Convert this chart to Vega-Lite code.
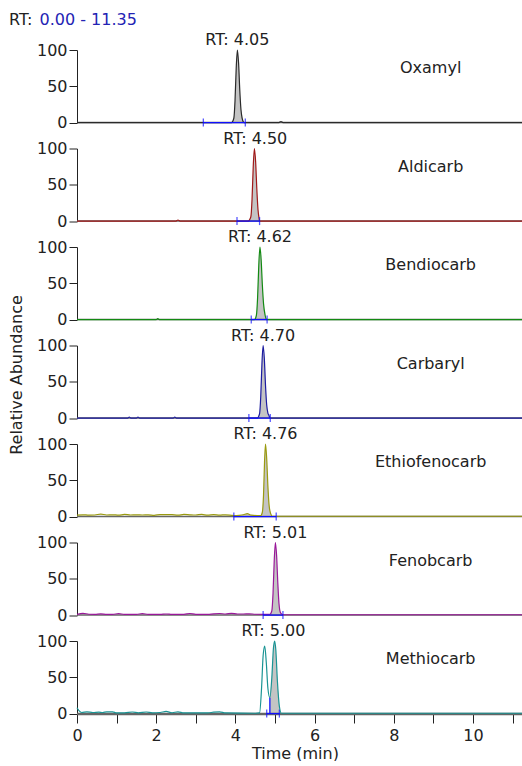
{
  "$schema": "https://vega.github.io/schema/vega-lite/v6.json",
  "padding": {"left": 8, "top": 12, "right": 0, "bottom": 0},
  "background": "white",
  "config": {
    "font": "DejaVu Sans",
    "view": {"stroke": null},
    "axis": {"labelFont": "DejaVu Sans", "labelFontSize": 16, "labelColor": "#222222", "tickColor": "#222222", "domainColor": "#222222", "grid": false, "titleFont": "DejaVu Sans", "titleFontSize": 16, "titleFontWeight": "normal", "titleColor": "#222222"},
    "axisX": {"title": "Time (min)", "values": [0, 0.5, 1, 1.5, 2, 2.5, 3, 3.5, 4, 4.5, 5, 5.5, 6, 6.5, 7, 7.5, 8, 8.5, 9, 9.5, 10, 10.5, 11], "labelExpr": "datum.value % 2 === 0 ? datum.label : ''", "tickSize": 9, "labelPadding": 4, "labelFlush": false, "labelOverlap": false, "domainColor": "#666666", "domainWidth": 1.5, "titlePadding": 2, "titleX": 218},
    "axisY": {"values": [0, 10, 20, 30, 40, 50, 60, 70, 80, 90, 100], "labelExpr": "datum.value % 50 === 0 ? datum.label : ''", "tickSize": 8, "labelPadding": 2, "labelOverlap": false, "labelFlush": false, "domain": true, "ticks": true}
  },
  "title": {
    "text": "RT:",
    "subtitle": "\u200b\u00a0\u00a0\u00a0\u00a0\u00a0\u00a00.00 - 11.35",
    "anchor": "start",
    "font": "DejaVu Sans",
    "fontSize": 16,
    "fontWeight": "normal",
    "color": "#222222",
    "subtitleFont": "DejaVu Sans",
    "subtitleFontSize": 16,
    "subtitleColor": "#2323b4",
    "subtitlePadding": -16,
    "offset": 4
  },
  "data": {"values": [
    {"c": "Oxamyl", "kind": "trace", "t": 0, "v": 0},
    {"c": "Oxamyl", "kind": "trace", "t": 3.19, "v": 0},
    {"c": "Oxamyl", "kind": "trace", "t": 3.9, "v": 0},
    {"c": "Oxamyl", "kind": "trace", "t": 3.96, "v": 6},
    {"c": "Oxamyl", "kind": "trace", "t": 3.99, "v": 30},
    {"c": "Oxamyl", "kind": "trace", "t": 4.02, "v": 75},
    {"c": "Oxamyl", "kind": "trace", "t": 4.05, "v": 100},
    {"c": "Oxamyl", "kind": "trace", "t": 4.08, "v": 82},
    {"c": "Oxamyl", "kind": "trace", "t": 4.11, "v": 45},
    {"c": "Oxamyl", "kind": "trace", "t": 4.14, "v": 18},
    {"c": "Oxamyl", "kind": "trace", "t": 4.17, "v": 6},
    {"c": "Oxamyl", "kind": "trace", "t": 4.22, "v": 0},
    {"c": "Oxamyl", "kind": "trace", "t": 4.25, "v": 0},
    {"c": "Oxamyl", "kind": "trace", "t": 5.1, "v": 0},
    {"c": "Oxamyl", "kind": "trace", "t": 5.15, "v": 1.5},
    {"c": "Oxamyl", "kind": "trace", "t": 5.2, "v": 0},
    {"c": "Oxamyl", "kind": "trace", "t": 11.35, "v": 0},

    {"c": "Aldicarb", "kind": "trace", "t": 0, "v": 0},
    {"c": "Aldicarb", "kind": "trace", "t": 2.5, "v": 0},
    {"c": "Aldicarb", "kind": "trace", "t": 2.55, "v": 1.5},
    {"c": "Aldicarb", "kind": "trace", "t": 2.6, "v": 0},
    {"c": "Aldicarb", "kind": "trace", "t": 4.04, "v": 0},
    {"c": "Aldicarb", "kind": "trace", "t": 4.32, "v": 0},
    {"c": "Aldicarb", "kind": "trace", "t": 4.39, "v": 6},
    {"c": "Aldicarb", "kind": "trace", "t": 4.42, "v": 30},
    {"c": "Aldicarb", "kind": "trace", "t": 4.45, "v": 75},
    {"c": "Aldicarb", "kind": "trace", "t": 4.48, "v": 100},
    {"c": "Aldicarb", "kind": "trace", "t": 4.51, "v": 82},
    {"c": "Aldicarb", "kind": "trace", "t": 4.54, "v": 45},
    {"c": "Aldicarb", "kind": "trace", "t": 4.57, "v": 16},
    {"c": "Aldicarb", "kind": "trace", "t": 4.6, "v": 3},
    {"c": "Aldicarb", "kind": "trace", "t": 4.61, "v": 0},
    {"c": "Aldicarb", "kind": "trace", "t": 11.35, "v": 0},

    {"c": "Bendiocarb", "kind": "trace", "t": 0, "v": 0},
    {"c": "Bendiocarb", "kind": "trace", "t": 2.0, "v": 0},
    {"c": "Bendiocarb", "kind": "trace", "t": 2.04, "v": 1.5},
    {"c": "Bendiocarb", "kind": "trace", "t": 2.08, "v": 0},
    {"c": "Bendiocarb", "kind": "trace", "t": 4.4, "v": 0},
    {"c": "Bendiocarb", "kind": "trace", "t": 4.48, "v": 0},
    {"c": "Bendiocarb", "kind": "trace", "t": 4.53, "v": 6},
    {"c": "Bendiocarb", "kind": "trace", "t": 4.56, "v": 30},
    {"c": "Bendiocarb", "kind": "trace", "t": 4.59, "v": 75},
    {"c": "Bendiocarb", "kind": "trace", "t": 4.62, "v": 100},
    {"c": "Bendiocarb", "kind": "trace", "t": 4.65, "v": 82},
    {"c": "Bendiocarb", "kind": "trace", "t": 4.68, "v": 48},
    {"c": "Bendiocarb", "kind": "trace", "t": 4.71, "v": 22},
    {"c": "Bendiocarb", "kind": "trace", "t": 4.75, "v": 6},
    {"c": "Bendiocarb", "kind": "trace", "t": 4.79, "v": 0},
    {"c": "Bendiocarb", "kind": "trace", "t": 4.8, "v": 0},
    {"c": "Bendiocarb", "kind": "trace", "t": 11.35, "v": 0},

    {"c": "Carbaryl", "kind": "trace", "t": 0, "v": 0},
    {"c": "Carbaryl", "kind": "trace", "t": 1.28, "v": 0},
    {"c": "Carbaryl", "kind": "trace", "t": 1.32, "v": 1.5},
    {"c": "Carbaryl", "kind": "trace", "t": 1.36, "v": 0},
    {"c": "Carbaryl", "kind": "trace", "t": 1.5, "v": 0},
    {"c": "Carbaryl", "kind": "trace", "t": 1.54, "v": 1.5},
    {"c": "Carbaryl", "kind": "trace", "t": 1.58, "v": 0},
    {"c": "Carbaryl", "kind": "trace", "t": 2.43, "v": 0},
    {"c": "Carbaryl", "kind": "trace", "t": 2.47, "v": 1.5},
    {"c": "Carbaryl", "kind": "trace", "t": 2.51, "v": 0},
    {"c": "Carbaryl", "kind": "trace", "t": 4.34, "v": 0},
    {"c": "Carbaryl", "kind": "trace", "t": 4.55, "v": 0},
    {"c": "Carbaryl", "kind": "trace", "t": 4.61, "v": 6},
    {"c": "Carbaryl", "kind": "trace", "t": 4.64, "v": 30},
    {"c": "Carbaryl", "kind": "trace", "t": 4.67, "v": 75},
    {"c": "Carbaryl", "kind": "trace", "t": 4.7, "v": 100},
    {"c": "Carbaryl", "kind": "trace", "t": 4.73, "v": 82},
    {"c": "Carbaryl", "kind": "trace", "t": 4.76, "v": 45},
    {"c": "Carbaryl", "kind": "trace", "t": 4.79, "v": 18},
    {"c": "Carbaryl", "kind": "trace", "t": 4.82, "v": 7},
    {"c": "Carbaryl", "kind": "trace", "t": 4.845, "v": 4},
    {"c": "Carbaryl", "kind": "trace", "t": 4.87, "v": 0},
    {"c": "Carbaryl", "kind": "trace", "t": 4.88, "v": 0},
    {"c": "Carbaryl", "kind": "trace", "t": 11.35, "v": 0},

    {"c": "Ethiofenocarb", "kind": "trace", "t": 0, "v": 2},
    {"c": "Ethiofenocarb", "kind": "trace", "t": 0.15, "v": 2.5},
    {"c": "Ethiofenocarb", "kind": "trace", "t": 0.3, "v": 2},
    {"c": "Ethiofenocarb", "kind": "trace", "t": 0.45, "v": 2.2},
    {"c": "Ethiofenocarb", "kind": "trace", "t": 0.6, "v": 3.5},
    {"c": "Ethiofenocarb", "kind": "trace", "t": 0.75, "v": 2.2},
    {"c": "Ethiofenocarb", "kind": "trace", "t": 0.9, "v": 2.5},
    {"c": "Ethiofenocarb", "kind": "trace", "t": 1.05, "v": 2},
    {"c": "Ethiofenocarb", "kind": "trace", "t": 1.2, "v": 3},
    {"c": "Ethiofenocarb", "kind": "trace", "t": 1.35, "v": 2.2},
    {"c": "Ethiofenocarb", "kind": "trace", "t": 1.5, "v": 2.5},
    {"c": "Ethiofenocarb", "kind": "trace", "t": 1.65, "v": 2.2},
    {"c": "Ethiofenocarb", "kind": "trace", "t": 1.8, "v": 2.5},
    {"c": "Ethiofenocarb", "kind": "trace", "t": 1.95, "v": 1.8},
    {"c": "Ethiofenocarb", "kind": "trace", "t": 2.1, "v": 2.8},
    {"c": "Ethiofenocarb", "kind": "trace", "t": 2.25, "v": 2.8},
    {"c": "Ethiofenocarb", "kind": "trace", "t": 2.4, "v": 2.6},
    {"c": "Ethiofenocarb", "kind": "trace", "t": 2.55, "v": 2.0},
    {"c": "Ethiofenocarb", "kind": "trace", "t": 2.7, "v": 3},
    {"c": "Ethiofenocarb", "kind": "trace", "t": 2.85, "v": 2.5},
    {"c": "Ethiofenocarb", "kind": "trace", "t": 3.0, "v": 2.2},
    {"c": "Ethiofenocarb", "kind": "trace", "t": 3.15, "v": 3},
    {"c": "Ethiofenocarb", "kind": "trace", "t": 3.3, "v": 2},
    {"c": "Ethiofenocarb", "kind": "trace", "t": 3.45, "v": 2.8},
    {"c": "Ethiofenocarb", "kind": "trace", "t": 3.6, "v": 2},
    {"c": "Ethiofenocarb", "kind": "trace", "t": 3.75, "v": 2.5},
    {"c": "Ethiofenocarb", "kind": "trace", "t": 3.9, "v": 1.8},
    {"c": "Ethiofenocarb", "kind": "trace", "t": 3.96, "v": 1.5},
    {"c": "Ethiofenocarb", "kind": "trace", "t": 4.1, "v": 1.8},
    {"c": "Ethiofenocarb", "kind": "trace", "t": 4.2, "v": 2.5},
    {"c": "Ethiofenocarb", "kind": "trace", "t": 4.3, "v": 4},
    {"c": "Ethiofenocarb", "kind": "trace", "t": 4.4, "v": 2},
    {"c": "Ethiofenocarb", "kind": "trace", "t": 4.55, "v": 1.5},
    {"c": "Ethiofenocarb", "kind": "trace", "t": 4.64, "v": 1.5},
    {"c": "Ethiofenocarb", "kind": "trace", "t": 4.68, "v": 6},
    {"c": "Ethiofenocarb", "kind": "trace", "t": 4.71, "v": 30},
    {"c": "Ethiofenocarb", "kind": "trace", "t": 4.735, "v": 75},
    {"c": "Ethiofenocarb", "kind": "trace", "t": 4.76, "v": 100},
    {"c": "Ethiofenocarb", "kind": "trace", "t": 4.79, "v": 80},
    {"c": "Ethiofenocarb", "kind": "trace", "t": 4.82, "v": 42},
    {"c": "Ethiofenocarb", "kind": "trace", "t": 4.85, "v": 16},
    {"c": "Ethiofenocarb", "kind": "trace", "t": 4.89, "v": 4},
    {"c": "Ethiofenocarb", "kind": "trace", "t": 4.93, "v": 0.5},
    {"c": "Ethiofenocarb", "kind": "trace", "t": 5.03, "v": 0.5},
    {"c": "Ethiofenocarb", "kind": "trace", "t": 11.35, "v": 0.5},

    {"c": "Fenobcarb", "kind": "trace", "t": 0, "v": 1},
    {"c": "Fenobcarb", "kind": "trace", "t": 0.15, "v": 2.5},
    {"c": "Fenobcarb", "kind": "trace", "t": 0.3, "v": 1.2},
    {"c": "Fenobcarb", "kind": "trace", "t": 0.45, "v": 1},
    {"c": "Fenobcarb", "kind": "trace", "t": 0.6, "v": 1.8},
    {"c": "Fenobcarb", "kind": "trace", "t": 0.75, "v": 1},
    {"c": "Fenobcarb", "kind": "trace", "t": 0.9, "v": 1},
    {"c": "Fenobcarb", "kind": "trace", "t": 1.05, "v": 2},
    {"c": "Fenobcarb", "kind": "trace", "t": 1.2, "v": 1},
    {"c": "Fenobcarb", "kind": "trace", "t": 1.5, "v": 1},
    {"c": "Fenobcarb", "kind": "trace", "t": 1.65, "v": 2},
    {"c": "Fenobcarb", "kind": "trace", "t": 1.8, "v": 1},
    {"c": "Fenobcarb", "kind": "trace", "t": 2.1, "v": 1},
    {"c": "Fenobcarb", "kind": "trace", "t": 2.25, "v": 1.5},
    {"c": "Fenobcarb", "kind": "trace", "t": 2.4, "v": 1},
    {"c": "Fenobcarb", "kind": "trace", "t": 2.7, "v": 1},
    {"c": "Fenobcarb", "kind": "trace", "t": 2.85, "v": 2.2},
    {"c": "Fenobcarb", "kind": "trace", "t": 3.0, "v": 1},
    {"c": "Fenobcarb", "kind": "trace", "t": 3.3, "v": 1},
    {"c": "Fenobcarb", "kind": "trace", "t": 3.45, "v": 1.8},
    {"c": "Fenobcarb", "kind": "trace", "t": 3.6, "v": 2.2},
    {"c": "Fenobcarb", "kind": "trace", "t": 3.75, "v": 1.5},
    {"c": "Fenobcarb", "kind": "trace", "t": 3.9, "v": 2.5},
    {"c": "Fenobcarb", "kind": "trace", "t": 4.05, "v": 1.5},
    {"c": "Fenobcarb", "kind": "trace", "t": 4.2, "v": 1.5},
    {"c": "Fenobcarb", "kind": "trace", "t": 4.35, "v": 1.8},
    {"c": "Fenobcarb", "kind": "trace", "t": 4.5, "v": 1.2},
    {"c": "Fenobcarb", "kind": "trace", "t": 4.7, "v": 1},
    {"c": "Fenobcarb", "kind": "trace", "t": 4.87, "v": 1},
    {"c": "Fenobcarb", "kind": "trace", "t": 4.92, "v": 6},
    {"c": "Fenobcarb", "kind": "trace", "t": 4.95, "v": 30},
    {"c": "Fenobcarb", "kind": "trace", "t": 4.98, "v": 75},
    {"c": "Fenobcarb", "kind": "trace", "t": 5.01, "v": 100},
    {"c": "Fenobcarb", "kind": "trace", "t": 5.04, "v": 82},
    {"c": "Fenobcarb", "kind": "trace", "t": 5.07, "v": 45},
    {"c": "Fenobcarb", "kind": "trace", "t": 5.1, "v": 16},
    {"c": "Fenobcarb", "kind": "trace", "t": 5.14, "v": 3},
    {"c": "Fenobcarb", "kind": "trace", "t": 5.2, "v": 0.5},
    {"c": "Fenobcarb", "kind": "trace", "t": 11.35, "v": 0.5},

    {"c": "Methiocarb", "kind": "trace", "t": 0, "v": 8},
    {"c": "Methiocarb", "kind": "trace", "t": 0.05, "v": 4},
    {"c": "Methiocarb", "kind": "trace", "t": 0.12, "v": 1.5},
    {"c": "Methiocarb", "kind": "trace", "t": 0.25, "v": 2.5},
    {"c": "Methiocarb", "kind": "trace", "t": 0.4, "v": 1.5},
    {"c": "Methiocarb", "kind": "trace", "t": 0.55, "v": 2},
    {"c": "Methiocarb", "kind": "trace", "t": 0.65, "v": 1.5},
    {"c": "Methiocarb", "kind": "trace", "t": 0.75, "v": 2.5},
    {"c": "Methiocarb", "kind": "trace", "t": 0.9, "v": 2.5},
    {"c": "Methiocarb", "kind": "trace", "t": 1.0, "v": 1},
    {"c": "Methiocarb", "kind": "trace", "t": 1.2, "v": 1},
    {"c": "Methiocarb", "kind": "trace", "t": 1.4, "v": 2.2},
    {"c": "Methiocarb", "kind": "trace", "t": 1.55, "v": 1},
    {"c": "Methiocarb", "kind": "trace", "t": 1.75, "v": 2.2},
    {"c": "Methiocarb", "kind": "trace", "t": 1.9, "v": 1},
    {"c": "Methiocarb", "kind": "trace", "t": 2.1, "v": 1.5},
    {"c": "Methiocarb", "kind": "trace", "t": 2.25, "v": 3},
    {"c": "Methiocarb", "kind": "trace", "t": 2.4, "v": 1.2},
    {"c": "Methiocarb", "kind": "trace", "t": 2.55, "v": 2.5},
    {"c": "Methiocarb", "kind": "trace", "t": 2.7, "v": 1},
    {"c": "Methiocarb", "kind": "trace", "t": 3.3, "v": 1},
    {"c": "Methiocarb", "kind": "trace", "t": 3.45, "v": 2},
    {"c": "Methiocarb", "kind": "trace", "t": 3.6, "v": 2.5},
    {"c": "Methiocarb", "kind": "trace", "t": 3.75, "v": 1},
    {"c": "Methiocarb", "kind": "trace", "t": 4.5, "v": 0.5},
    {"c": "Methiocarb", "kind": "trace", "t": 4.61, "v": 1},
    {"c": "Methiocarb", "kind": "trace", "t": 4.66, "v": 35},
    {"c": "Methiocarb", "kind": "trace", "t": 4.7, "v": 80},
    {"c": "Methiocarb", "kind": "trace", "t": 4.74, "v": 93},
    {"c": "Methiocarb", "kind": "trace", "t": 4.78, "v": 70},
    {"c": "Methiocarb", "kind": "trace", "t": 4.82, "v": 35},
    {"c": "Methiocarb", "kind": "trace", "t": 4.87, "v": 22},
    {"c": "Methiocarb", "kind": "trace", "t": 4.92, "v": 50},
    {"c": "Methiocarb", "kind": "trace", "t": 4.96, "v": 90},
    {"c": "Methiocarb", "kind": "trace", "t": 4.99, "v": 100},
    {"c": "Methiocarb", "kind": "trace", "t": 5.02, "v": 88},
    {"c": "Methiocarb", "kind": "trace", "t": 5.06, "v": 45},
    {"c": "Methiocarb", "kind": "trace", "t": 5.11, "v": 10},
    {"c": "Methiocarb", "kind": "trace", "t": 5.16, "v": 0.5},
    {"c": "Methiocarb", "kind": "trace", "t": 11.35, "v": 0.5},

    {"c": "Oxamyl", "kind": "win", "t0": 3.19, "t1": 4.25, "f0": 3.19, "f1": 4.25},
    {"c": "Aldicarb", "kind": "win", "t0": 4.04, "t1": 4.61, "f0": 4.04, "f1": 4.61},
    {"c": "Bendiocarb", "kind": "win", "t0": 4.4, "t1": 4.8, "f0": 4.4, "f1": 4.8},
    {"c": "Carbaryl", "kind": "win", "t0": 4.34, "t1": 4.88, "f0": 4.34, "f1": 4.88},
    {"c": "Ethiofenocarb", "kind": "win", "t0": 3.96, "t1": 5.03, "f0": 3.96, "f1": 5.03},
    {"c": "Fenobcarb", "kind": "win", "t0": 4.7, "t1": 5.2, "f0": 4.7, "f1": 5.2},
    {"c": "Methiocarb", "kind": "win", "t0": 4.79, "t1": 5.11, "f0": 4.87, "f1": 5.11},

    {"c": "Methiocarb", "kind": "drop", "t": 4.87, "v": 22},

    {"c": "Oxamyl", "kind": "rt", "rt": 4.05, "lab": "RT: 4.05"},
    {"c": "Aldicarb", "kind": "rt", "rt": 4.5, "lab": "RT: 4.50"},
    {"c": "Bendiocarb", "kind": "rt", "rt": 4.62, "lab": "RT: 4.62"},
    {"c": "Carbaryl", "kind": "rt", "rt": 4.7, "lab": "RT: 4.70"},
    {"c": "Ethiofenocarb", "kind": "rt", "rt": 4.76, "lab": "RT: 4.76"},
    {"c": "Fenobcarb", "kind": "rt", "rt": 5.01, "lab": "RT: 5.01"},
    {"c": "Methiocarb", "kind": "rt", "rt": 4.96, "lab": "RT: 5.00"}
  ]},
  "facet": {
    "row": {
      "field": "c",
      "type": "nominal",
      "sort": ["Oxamyl", "Aldicarb", "Bendiocarb", "Carbaryl", "Ethiofenocarb", "Fenobcarb", "Methiocarb"],
      "header": {"title": "Relative Abundance", "labels": false, "titleFont": "DejaVu Sans", "titleFontSize": 16, "titleFontWeight": "normal", "titleColor": "#222222", "titlePadding": 1}
    }
  },
  "spacing": 25.5,
  "bounds": "flush",
  "spec": {
    "width": 449.5,
    "height": 72.6,
    "layer": [
      {
        "transform": [
          {"joinaggregate": [{"op": "max", "field": "f0", "as": "F0"}, {"op": "max", "field": "f1", "as": "F1"}], "groupby": ["c"]},
          {"filter": "datum.kind === 'trace' && datum.t >= datum.F0 && datum.t <= datum.F1"}
        ],
        "mark": {"type": "area", "color": "#c4c4c4", "opacity": 1},
        "encoding": {
          "x": {"field": "t", "type": "quantitative", "title": "Time (min)", "scale": {"domain": [0, 11.35], "nice": false, "zero": false}},
          "y": {"field": "v", "type": "quantitative", "title": null, "scale": {"domain": [0, 100], "nice": false, "zero": false}}
        }
      },
      {
        "transform": [{"filter": "datum.kind === 'rt'"}],
        "mark": {"type": "rule", "color": "#666666", "strokeWidth": 1.5},
        "encoding": {"y": {"datum": 0, "type": "quantitative", "title": null}}
      },
      {
        "transform": [{"filter": "datum.kind === 'trace'"}],
        "mark": {"type": "line", "strokeWidth": 1.2, "interpolate": "monotone"},
        "encoding": {
          "x": {"field": "t", "type": "quantitative", "title": "Time (min)"},
          "y": {"field": "v", "type": "quantitative", "title": null},
          "color": {
            "field": "c", "type": "nominal", "legend": null,
            "scale": {
              "domain": ["Oxamyl", "Aldicarb", "Bendiocarb", "Carbaryl", "Ethiofenocarb", "Fenobcarb", "Methiocarb"],
              "range": ["#2a2a2a", "#a01818", "#128a12", "#1c1ca0", "#9a9a10", "#9a189a", "#1a9494"]
            }
          }
        }
      },
      {
        "transform": [{"filter": "datum.kind === 'win'"}],
        "mark": {"type": "rule", "color": "#1010ff", "strokeWidth": 1.3},
        "encoding": {
          "x": {"field": "t0", "type": "quantitative", "title": "Time (min)"},
          "x2": {"field": "t1"},
          "y": {"datum": 0, "type": "quantitative", "title": null}
        }
      },
      {
        "transform": [{"filter": "datum.kind === 'win'"}, {"fold": ["t0", "t1"], "as": ["end", "tv"]}],
        "mark": {"type": "tick", "orient": "vertical", "color": "#1010ff", "size": 8, "thickness": 1.3},
        "encoding": {
          "x": {"field": "tv", "type": "quantitative", "title": "Time (min)"},
          "y": {"datum": 0, "type": "quantitative", "title": null}
        }
      },
      {
        "transform": [{"filter": "datum.kind === 'drop'"}],
        "mark": {"type": "rule", "color": "#1010ff", "strokeWidth": 1.3},
        "encoding": {
          "x": {"field": "t", "type": "quantitative", "title": "Time (min)"},
          "y": {"field": "v", "type": "quantitative", "title": null},
          "y2": {"datum": 0}
        }
      },
      {
        "transform": [{"filter": "datum.kind === 'rt'"}],
        "mark": {"type": "text", "fontSize": 16, "font": "DejaVu Sans", "color": "#222222", "baseline": "alphabetic", "align": "center", "dy": -5},
        "encoding": {
          "x": {"field": "rt", "type": "quantitative", "title": "Time (min)"},
          "y": {"datum": 100, "type": "quantitative", "title": null},
          "text": {"field": "lab"}
        }
      },
      {
        "transform": [{"filter": "datum.kind === 'rt'"}],
        "mark": {"type": "text", "fontSize": 16, "font": "DejaVu Sans", "color": "#222222", "baseline": "alphabetic", "align": "center"},
        "encoding": {
          "x": {"datum": 8.93, "type": "quantitative", "title": "Time (min)"},
          "y": {"datum": 68, "type": "quantitative", "title": null},
          "text": {"field": "c"}
        }
      }
    ]
  }
}
